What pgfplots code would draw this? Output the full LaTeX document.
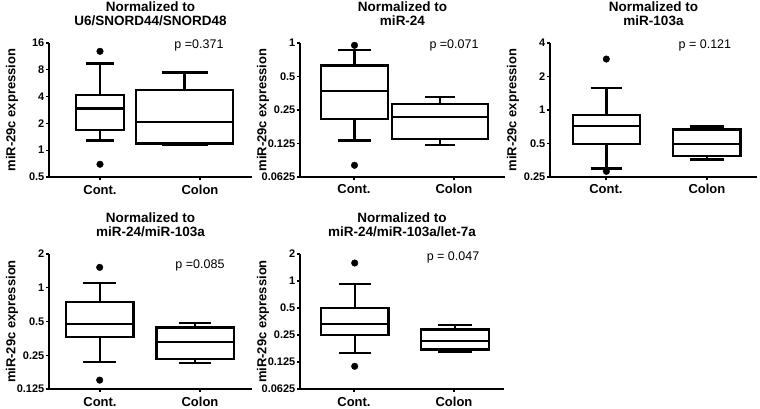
\documentclass[border=0pt]{standalone}
\usepackage{pgfplots}
\pgfplotsset{compat=1.18}
\usepgfplotslibrary{statistics}
\usepackage{fontspec}
\setmainfont{Liberation Sans}

\newcommand{\tfont}{\fontsize{13.5}{15}\selectfont\bfseries}
\newcommand{\lfont}{\fontsize{13}{15}\selectfont\bfseries}
\newcommand{\pfont}{\fontsize{12.5}{14}\selectfont}
\pgfplotsset{
  myax/.style={
    scale only axis, anchor=south west,
    boxplot/draw direction=y,
    axis lines=left, axis line style={-, line width=1.3pt},
    tick style={black, line width=1.2pt},
    tick align=outside, major tick length=3pt,
    minor tick num=0,
    xtick={1,2}, xticklabels={Cont., Colon},
    xticklabel style={font=\lfont, anchor=base, yshift=-14pt},
    yticklabel style={font=\fontsize{11}{12}\selectfont\bfseries, inner sep=1.5pt},
    ylabel={miR-29c expression},
    every axis y label/.style={at={([xshift=-37pt]axis description cs:0,0.5)}, rotate=90, anchor=center, font=\lfont},
    clip=false,
  },
  mybox/.style={black, line width=2.3pt, solid},
  myout/.style={only marks, mark=*, mark size=3.3pt, black},
}
\newcommand{\ttl}[2]{%
  \node[anchor=base, font=\tfont] at ([yshift=31.5pt]rel axis cs:0.5,1) {#1};
  \node[anchor=base, font=\tfont] at ([yshift=17.5pt]rel axis cs:0.5,1) {#2};}

\begin{document}
\begin{tikzpicture}
\path[use as bounding box] (0,0) rectangle (760pt,408pt);

% Panel 1
\begin{axis}[myax, ymode=log, log basis y=2, at={(49pt,231pt)}, width=203pt, height=134pt,
  xmin=0.49, xmax=2.52, ymin=0.5, ymax=16,
  ytick={0.5,1,2,4,8,16}, yticklabels={0.5,1,2,4,8,16}]
\addplot[mybox, boxplot prepared={draw position=1, box extend=0.48, whisker extend=0.28,
  lower whisker=1.29, lower quartile=1.68, median=2.93, upper quartile=4.14, upper whisker=9.4}] coordinates {};
\addplot[mybox, boxplot prepared={draw position=1.845, box extend=0.97, whisker extend=0.46,
  lower whisker=1.14, lower quartile=1.19, median=2.07, upper quartile=4.76, upper whisker=7.46}] coordinates {};
\addplot[myout] coordinates {(1,12.9) (1,0.695)};
\ttl{Normalized to}{U6/SNORD44/SNORD48}
\node[font=\pfont] at ([yshift=-2pt]axis cs:1.99,16) {p =0.371};
\end{axis}

% Panel 2
\begin{axis}[myax, ymode=log, log basis y=2, at={(300pt,231pt)}, width=205pt, height=134pt,
  xmin=0.46, xmax=2.51, ymin=0.0625, ymax=1,
  ytick={0.0625,0.125,0.25,0.5,1}, yticklabels={0.0625,0.125,0.25,0.5,1}]
\addplot[mybox, boxplot prepared={draw position=1.005, box extend=0.676, whisker extend=0.327,
  lower whisker=0.133, lower quartile=0.207, median=0.371, upper quartile=0.628, upper whisker=0.865}] coordinates {};
\addplot[mybox, boxplot prepared={draw position=1.86, box extend=0.96, whisker extend=0.296,
  lower whisker=0.122, lower quartile=0.137, median=0.215, upper quartile=0.285, upper whisker=0.328}] coordinates {};
\addplot[myout] coordinates {(1.005,0.953) (1.005,0.0797)};
\ttl{Normalized to}{miR-24}
\node[font=\pfont] at ([yshift=-2pt]axis cs:2,1) {p =0.071};
\end{axis}

% Panel 3
\begin{axis}[myax, ymode=log, log basis y=2, at={(550pt,231pt)}, width=207pt, height=134pt,
  xmin=0.446, xmax=2.496, ymin=0.25, ymax=4,
  ytick={0.25,0.5,1,2,4}, yticklabels={0.25,0.5,1,2,4}]
\addplot[mybox, boxplot prepared={draw position=1.004, box extend=0.666, whisker extend=0.313,
  lower whisker=0.299, lower quartile=0.498, median=0.723, upper quartile=0.908, upper whisker=1.566}] coordinates {};
\addplot[mybox, boxplot prepared={draw position=2.0, box extend=0.667, whisker extend=0.33,
  lower whisker=0.360, lower quartile=0.386, median=0.495, upper quartile=0.670, upper whisker=0.713}] coordinates {};
\addplot[myout] coordinates {(1.004,2.87) (1.004,0.281)};
\ttl{Normalized to}{miR-103a}
\node[font=\pfont] at ([yshift=-2pt]axis cs:1.98,4) {p = 0.121};
\end{axis}

% Panel 4
\begin{axis}[myax, ymode=log, log basis y=2, at={(49pt,19pt)}, width=203pt, height=135pt,
  xmin=0.49, xmax=2.52, ymin=0.125, ymax=2,
  ytick={0.125,0.25,0.5,1,2}, yticklabels={0.125,0.25,0.5,1,2}]
\addplot[mybox, boxplot prepared={draw position=0.997, box extend=0.673, whisker extend=0.333,
  lower whisker=0.218, lower quartile=0.366, median=0.475, upper quartile=0.746, upper whisker=1.095}] coordinates {};
\addplot[mybox, boxplot prepared={draw position=1.95, box extend=0.773, whisker extend=0.317,
  lower whisker=0.212, lower quartile=0.231, median=0.326, upper quartile=0.441, upper whisker=0.485}] coordinates {};
\addplot[myout] coordinates {(0.997,1.52) (0.997,0.150)};
\ttl{Normalized to}{miR-24/miR-103a}
\node[font=\pfont] at ([yshift=-11pt]axis cs:2,2) {p =0.085};
\end{axis}

% Panel 5
\begin{axis}[myax, ymode=log, log basis y=2, at={(300pt,19pt)}, width=204pt, height=135pt,
  xmin=0.46, xmax=2.5, ymin=0.0625, ymax=2,
  ytick={0.0625,0.125,0.25,0.5,1,2}, yticklabels={0.0625,0.125,0.25,0.5,1,2}]
\addplot[mybox, boxplot prepared={draw position=1.007, box extend=0.673, whisker extend=0.324,
  lower whisker=0.157, lower quartile=0.25, median=0.331, upper quartile=0.496, upper whisker=0.934}] coordinates {};
\addplot[mybox, boxplot prepared={draw position=2.01, box extend=0.68, whisker extend=0.334,
  lower whisker=0.164, lower quartile=0.172, median=0.216, upper quartile=0.287, upper whisker=0.326}] coordinates {};
\addplot[myout] coordinates {(1.007,1.588) (1.007,0.112)};
\ttl{Normalized to}{miR-24/miR-103a/let-7a}
\node[font=\pfont] at ([yshift=-3.5pt]axis cs:1.99,2) {p = 0.047};
\end{axis}
\end{tikzpicture}
\end{document}
